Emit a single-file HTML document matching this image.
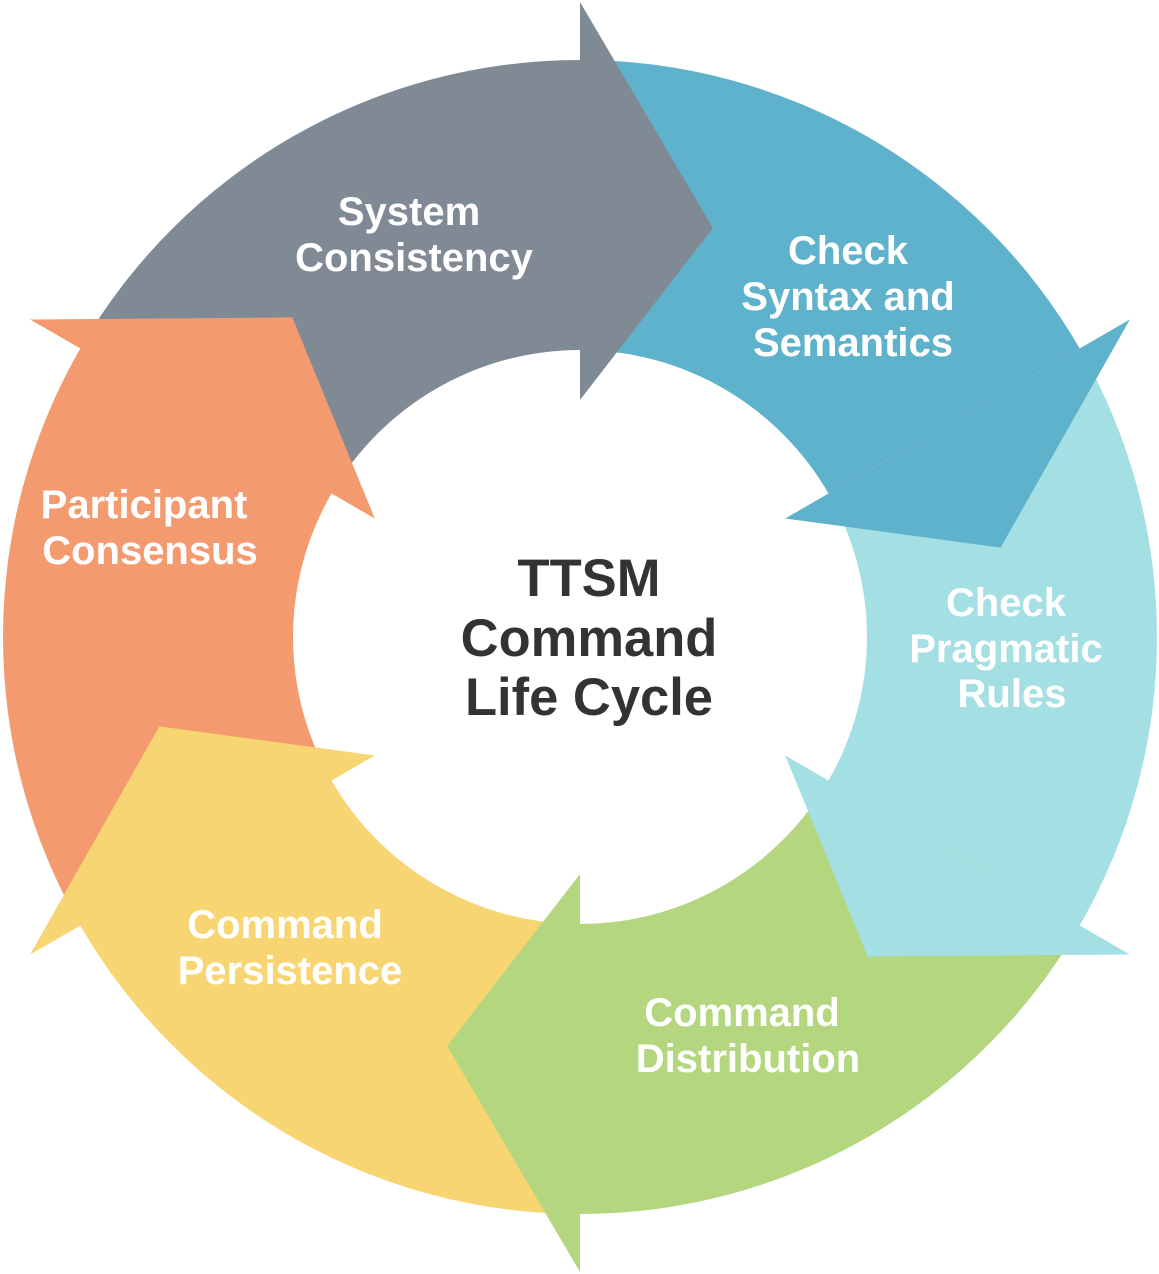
<!DOCTYPE html>
<html><head><meta charset="utf-8"><style>
html,body{margin:0;padding:0;background:#fff;}
svg{display:block;}
text{font-family:"Liberation Sans",Arial,sans-serif;font-weight:bold;}
.w{fill:#fff;font-size:40px;text-anchor:middle;}
.c{fill:#333;font-size:52.5px;text-anchor:middle;}
</style></head><body>
<svg width="1159" height="1274" viewBox="0 0 1159 1274" xmlns="http://www.w3.org/2000/svg">
<path fill="#7f8a94" d="M80.3,348.5 A577,577 0 0 1 580,60 L580,350 A287,287 0 0 0 331.5,493.5 Z"/>
<path fill="#5fb2cb" d="M580,60 A577,577 0 0 1 1079.7,348.5 L828.5,493.5 A287,287 0 0 0 580,350 Z"/>
<path fill="#a4dfe3" d="M1079.7,348.5 A577,577 0 0 1 1079.7,925.5 L828.5,780.5 A287,287 0 0 0 828.5,493.5 Z"/>
<path fill="#b3d67f" d="M1079.7,925.5 A577,577 0 0 1 580,1214 L580,924 A287,287 0 0 0 828.5,780.5 Z"/>
<path fill="#f7d572" d="M580,1214 A577,577 0 0 1 80.3,925.5 L331.5,780.5 A287,287 0 0 0 580,924 Z"/>
<path fill="#f39b6f" d="M80.3,925.5 A577,577 0 0 1 80.3,348.5 L331.5,493.5 A287,287 0 0 0 331.5,780.5 Z"/>
<polygon fill="#7f8a94" points="580,2 712.9,228 580,400"/>
<polygon fill="#5fb2cb" points="1129.9,319.5 1000.6,547.6 785.2,518.5"/>
<polygon fill="#a4dfe3" points="1129.9,954.5 867.7,956.6 785.2,755.5"/>
<polygon fill="#b3d67f" points="580,1272 447.1,1046 580,874"/>
<polygon fill="#f7d572" points="30.1,954.5 159.4,726.4 374.8,755.5"/>
<polygon fill="#f39b6f" points="30.1,319.5 292.3,317.4 374.8,518.5"/>
<text class="w" x="409" y="225">System</text>
<text class="w" x="414" y="271">Consistency</text>
<text class="w" x="848" y="264">Check</text>
<text class="w" x="848" y="310">Syntax and</text>
<text class="w" x="853" y="356">Semantics</text>
<text class="w" x="1006" y="616">Check</text>
<text class="w" x="1006" y="662">Pragmatic</text>
<text class="w" x="1012" y="707">Rules</text>
<text class="w" x="742" y="1026">Command</text>
<text class="w" x="748" y="1072">Distribution</text>
<text class="w" x="285" y="938">Command</text>
<text class="w" x="290" y="984">Persistence</text>
<text class="w" x="144" y="518">Participant</text>
<text class="w" x="150" y="564">Consensus</text>
<text class="c" x="589" y="596">TTSM</text>
<text class="c" x="589" y="656">Command</text>
<text class="c" x="589" y="715">Life Cycle</text>
</svg>
</body></html>
